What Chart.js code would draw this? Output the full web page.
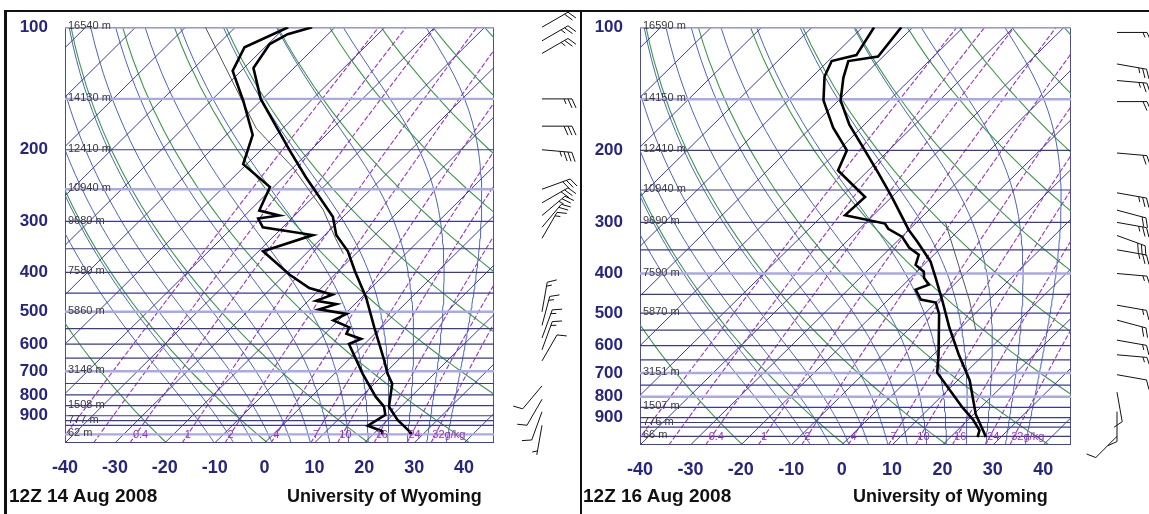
<!DOCTYPE html>
<html>
<head>
<meta charset="utf-8">
<title>Skew-T soundings</title>
<script src="https://cdn.jsdelivr.net/npm/chart.js@4.4.1/dist/chart.umd.min.js"></script>
<style>
  html, body { margin: 0; padding: 0; background: #fff; }
  body { position: relative; width: 1149px; height: 514px; overflow: hidden; font-family: "Liberation Sans", Arial, sans-serif; }
  canvas { position: absolute; top: 0; }
  .rule { position: absolute; background: #111; }
  .foot { position: absolute; top: 486px; font-weight: bold; font-size: 18px; color: #111; white-space: nowrap; }
  .date { font-size: 19px; top: 485px; }
</style>
</head>
<body>
<canvas id="left" width="580" height="514" style="left:0"></canvas>
<canvas id="right" width="574" height="514" style="left:575px"></canvas>
<div class="rule" style="left:4px;top:10px;width:1145px;height:2px"></div>
<div class="rule" style="left:4px;top:10px;width:3px;height:504px"></div>
<div class="rule" style="left:580px;top:10px;width:2px;height:504px"></div>
<div class="foot date" style="left:9px">12Z 14 Aug 2008</div>
<div class="foot" style="left:287px">University of Wyoming</div>
<div class="foot date" style="left:583px">12Z 16 Aug 2008</div>
<div class="foot" style="left:853px">University of Wyoming</div>
<script>
// ---- diagram background ----
const pressureTicks = [100, 200, 300, 400, 500, 600, 700, 800, 900];
const tempTicks = [-40, -30, -20, -10, 0, 10, 20, 30, 40];
const isobarLevels = [100, 150, 200, 250, 300, 350, 400, 450, 500, 550, 600, 650, 700, 750, 800, 850, 900, 925, 950, 1000, 1050];
const isothermValues = [-130, -120, -110, -100, -90, -80, -70, -60, -50, -40, -30, -20, -10, 0, 10, 20, 30, 40];
const dryThetas = [230, 250, 270, 290, 310, 330, 350, 370, 390, 410, 430, 450, 470];
const moistStarts = [-13, -9, -5, -1, 3, 7, 11, 15, 19, 23, 27, 31, 35];
const mixRatios = [0.1, 0.2, 0.4, 1, 2, 4, 7, 10, 16, 24, 32];
const mixLabels = ['', '', '0.4', '1', '2', '4', '7', '10', '16', '24', '32g/kg'];
const curveLevels = [1050, 1025, 1000, 975, 950, 925, 900, 875, 850, 825, 800, 775, 750, 725, 700, 675, 650, 625, 600, 575, 550, 525, 500, 475, 450, 425, 400, 375, 350, 325, 300, 275, 250, 225, 200, 180, 160, 140, 120, 110, 100];

// ---- 12Z 14 Aug 2008 ----
const leftTempP = [100, 104, 110, 126, 150, 201, 234, 292, 324, 355, 397, 461, 546, 657, 709, 751, 855, 920, 990, 1000];
const leftTempC = [-74.6, -78.1, -79.7, -78.1, -70.4, -54.1, -45.4, -32.1, -27.7, -22.1, -16.7, -9.1, -1.4, 7.2, 10.6, 13.6, 17.6, 21.9, 27.2, 27.5];
const leftDewP = [100, 112, 128, 152, 184, 217, 247, 282, 290, 295, 310, 324, 355, 405, 437, 454, 470, 479, 493, 506, 525, 546, 566, 583, 600, 709, 808, 855, 895, 952, 982, 1000];
const leftDewC = [-79.4, -84.1, -81.7, -73.4, -64.7, -60.7, -50.7, -48.1, -43.1, -46.7, -44.0, -32.4, -39.1, -29.1, -22.4, -16.4, -18.4, -13.7, -16.1, -9.7, -11.0, -6.4, -5.7, -1.7, -3.1, 5.6, 12.9, 16.6, 18.5, 17.2, 21.2, 21.8];
const leftParcelP = [100, 140, 177, 221, 281, 330, 360];
const leftParcelC = [-96.0, -78.0, -65.4, -50.1, -35.4, -27.2, -22.5];
const leftHeightP = [100, 150, 200, 250, 300, 400, 500, 700, 850, 925, 1000];
const leftHeightText = ['16540 m', '14130 m', '12410 m', '10940 m', '9680 m', '7580 m', '5860 m', '3146 m', '1508 m', '777 m', '62 m'];
const leftLightIsobars = [100, 150, 250, 500, 700, 1000];
const leftWindP = [100, 108, 116, 150, 175, 200, 250, 270, 290, 310, 330, 500, 540, 580, 620, 660, 760, 820, 880, 950];
const leftWindDir = [60, 60, 60, 90, 90, 95, 70, 60, 50, 40, 30, 10, 15, 20, 20, 30, 220, 210, 200, 190];
const leftWindKt = [20, 25, 25, 25, 30, 35, 30, 30, 25, 20, 15, 15, 15, 15, 15, 10, 10, 10, 10, 5];

// ---- 12Z 16 Aug 2008 ----
const rightTempP = [100, 118, 121, 133, 151, 173, 197, 228, 260, 313, 334, 374, 410, 467, 542, 631, 730, 883, 984, 1005];
const rightTempC = [-72.3, -71.0, -76.0, -73.6, -69.6, -63.0, -55.6, -47.3, -40.0, -30.0, -26.0, -19.3, -15.0, -9.0, -2.3, 5.0, 12.4, 20.4, 26.0, 27.0];
const rightDewP = [100, 117, 121, 132, 151, 176, 200, 224, 260, 288, 302, 311, 325, 346, 360, 381, 396, 410, 426, 438, 463, 471, 503, 631, 699, 850, 911, 967, 1005];
const rightDewC = [-77.7, -75.6, -79.3, -77.6, -73.0, -65.6, -58.3, -56.0, -45.3, -45.6, -36.0, -34.3, -30.0, -26.3, -23.0, -21.6, -18.6, -17.3, -15.0, -16.6, -13.6, -10.0, -7.0, 1.0, 4.4, 16.4, 21.0, 24.4, 25.4];
const rightParcelP = [299, 467, 553];
const rightParcelC = [-24.4, -3.6, 3.7];
const rightHeightP = [100, 150, 200, 250, 300, 400, 500, 700, 850, 925, 1000];
const rightHeightText = ['16590 m', '14150 m', '12410 m', '10940 m', '9690 m', '7590 m', '5870 m', '3151 m', '1507 m', '776 m', '66 m'];
const rightLightIsobars = [100, 150, 400, 700, 800];
const rightWindP = [103, 123, 135, 152, 203, 254, 280, 300, 323, 350, 400, 478, 520, 582, 632, 707, 780, 870, 1000];
const rightWindDir = [90, 100, 95, 90, 95, 100, 105, 100, 110, 100, 95, 100, 105, 100, 95, 100, 170, 180, 225];
const rightWindKt = [15, 25, 25, 20, 20, 25, 20, 25, 30, 25, 15, 15, 20, 15, 15, 10, 10, 10, 10];

const SKEW = 82.4, P_BOT = 1050;
const skewX = (t, p) => t + SKEW * Math.log10(P_BOT / p);

function satMix(tc, p) {
  const es = 6.112 * Math.exp(17.67 * tc / (tc + 243.5));
  return 0.622 * es / (p - es);
}
function moistRate(tc, p) {
  const T = tc + 273.15, rs = satMix(tc, p);
  const Rd = 287.04, Lv = 2.501e6, cp = 1005.7, eps = 0.622;
  return (Rd * T + Lv * rs) / (cp + Lv * Lv * rs * eps / (Rd * T * T)) / p;
}
function moistCurve(t0) {
  let t = t0, p = 1000;
  while (p < 1050) { t += moistRate(t, p) * 2; p += 2; }
  const pts = [{ x: skewX(t, p), y: p }];
  let n = 0;
  while (p > 100) {
    const k1 = moistRate(t, p);
    const k2 = moistRate(t - k1 * 1, p - 1);
    t -= (k1 + k2); p -= 2; n++;
    if (n % 5 === 0 || p <= 100) pts.push({ x: skewX(t, p), y: p });
  }
  return pts;
}
function mixDew(w, p) {
  const e = w * p / (622 + w), l = Math.log(e / 6.112);
  return 243.5 * l / (17.67 - l);
}

function line(pts, color, width, dash) {
  return { data: pts, borderColor: color, borderWidth: width, borderDash: dash || [], showLine: true,
           pointRadius: 0, fill: false, tension: 0 };
}
function profile(ps, ts) { return ps.map((p, i) => ({ x: skewX(ts[i], p), y: p })); }

function drawBarb(ctx, x, y, dir, kt) {
  const L = 30, r = dir * Math.PI / 180;
  const ux = Math.sin(r), uy = -Math.cos(r);
  const px = -uy, py = ux;
  const ex = x + ux * L, ey = y + uy * L;
  ctx.beginPath(); ctx.moveTo(x, y); ctx.lineTo(ex, ey);
  let rem = Math.round(kt / 5) * 5, pos = 0;
  while (rem >= 10) {
    const bx = ex - ux * pos, by = ey - uy * pos;
    ctx.moveTo(bx, by); ctx.lineTo(bx + px * 9 + ux * 4, by + py * 9 + uy * 4);
    rem -= 10; pos += 4;
  }
  if (rem >= 5) {
    if (pos === 0) pos = 4;
    const bx = ex - ux * pos, by = ey - uy * pos;
    ctx.moveTo(bx, by); ctx.lineTo(bx + px * 5 + ux * 2, by + py * 5 + uy * 2);
  }
  ctx.stroke();
}

function buildPanel(id, s) {
  const xMin = -40, xMax = s.xMax;
  const ds = [];
  ds.push(line(profile(s.tempP, s.tempC), '#000', 2.6));
  ds.push(line(profile(s.dewP, s.dewC), '#000', 2.6));
  ds.push(line(profile(s.parcelP, s.parcelC), '#555', 1));
  isobarLevels.forEach(p => {
    const light = s.light.includes(p);
    ds.push(line([{ x: xMin, y: p }, { x: xMax, y: p }], light ? '#a9a9e4' : '#3a3a96', light ? 2.4 : 1.2));
  });
  isothermValues.forEach(t => ds.push(line([{ x: skewX(t, 1050), y: 1050 }, { x: skewX(t, 100), y: 100 }], '#3c3ca6', 1)));
  dryThetas.forEach(th => ds.push(line(curveLevels.map(p => ({ x: skewX(th * Math.pow(p / 1000, 0.2857) - 273.15, p), y: p })), '#3a9a48', 1.1)));
  moistStarts.forEach(t0 => ds.push(line(moistCurve(t0), '#4a64c0', 1)));
  mixRatios.forEach(w => ds.push(line(curveLevels.map(p => ({ x: skewX(mixDew(w, p), p), y: p })), '#a030c8', 1.1, [5, 2])));

  const overlay = {
    id: 'overlay',
    beforeDatasetsDraw(chart) {
      const a = chart.chartArea, ctx = chart.ctx;
      ctx.save(); ctx.strokeStyle = '#4b4ba0'; ctx.lineWidth = 1;
      ctx.strokeRect(a.left + 0.5, a.top + 0.5, a.right - a.left - 1, a.bottom - a.top - 1);
      ctx.restore();
    },
    afterDatasetsDraw(chart) {
      const { ctx, chartArea: a } = chart, x = chart.scales.x, y = chart.scales.y;
      ctx.save();
      ctx.font = '11px "Liberation Sans", Arial, sans-serif';
      ctx.fillStyle = '#3a3a3a'; ctx.textBaseline = 'middle'; ctx.textAlign = 'left';
      s.heightP.forEach((p, i) => ctx.fillText(s.heightText[i], a.left + 3, y.getPixelForValue(p) - 1));
      ctx.fillStyle = '#9b2fbf'; ctx.textAlign = 'left';
      mixRatios.forEach((w, i) => {
        if (!mixLabels[i]) return;
        ctx.fillText(mixLabels[i], x.getPixelForValue(skewX(mixDew(w, 1000), 1000)) - 3, y.getPixelForValue(1000) + 1);
      });
      ctx.strokeStyle = '#111'; ctx.lineWidth = 1;
      s.windP.forEach((p, i) => drawBarb(ctx, a.right + s.barbOffset, y.getPixelForValue(p), s.windDir[i], s.windKt[i]));
      ctx.restore();
    }
  };

  const tickFont = { family: '"Liberation Sans", Arial, sans-serif', weight: 'bold' };
  return new Chart(document.getElementById(id), {
    type: 'scatter',
    data: { datasets: ds },
    options: {
      responsive: false, animation: false, events: [],
      layout: { padding: { left: 0, right: s.padRight, top: s.padTop, bottom: s.padBottom } },
      plugins: { legend: { display: false }, tooltip: { enabled: false } },
      scales: {
        x: {
          type: 'linear', min: xMin, max: xMax,
          grid: { display: false, drawTicks: false }, border: { display: false },
          afterBuildTicks: sc => { sc.ticks = tempTicks.map(v => ({ value: v })); },
          afterFit: sc => { sc.height = 40; },
          ticks: { color: '#26267f', font: Object.assign({ size: 18 }, tickFont), padding: 14, maxRotation: 0,
                   callback: v => String(v) }
        },
        y: {
          type: 'logarithmic', reverse: true, min: 100, max: 1050,
          grid: { display: false, drawTicks: false }, border: { display: false },
          afterBuildTicks: sc => { sc.ticks = pressureTicks.map(v => ({ value: v })); },
          afterFit: sc => { sc.width = 65; },
          ticks: { color: '#26267f', font: Object.assign({ size: 17 }, tickFont), padding: 17,
                   callback: v => String(v) }
        }
      }
    },
    plugins: [overlay]
  });
}

buildPanel('left', {
  xMax: 46, padRight: 86, padTop: 23, padBottom: 31, barbOffset: 48,
  tempP: leftTempP, tempC: leftTempC, dewP: leftDewP, dewC: leftDewC,
  parcelP: leftParcelP, parcelC: leftParcelC, light: leftLightIsobars,
  heightP: leftHeightP, heightText: leftHeightText,
  windP: leftWindP, windDir: leftWindDir, windKt: leftWindKt
});
buildPanel('right', {
  xMax: 45.5, padRight: 78, padTop: 24, padBottom: 29, barbOffset: 46,
  tempP: rightTempP, tempC: rightTempC, dewP: rightDewP, dewC: rightDewC,
  parcelP: rightParcelP, parcelC: rightParcelC, light: rightLightIsobars,
  heightP: rightHeightP, heightText: rightHeightText,
  windP: rightWindP, windDir: rightWindDir, windKt: rightWindKt
});
</script>
</body>
</html>
